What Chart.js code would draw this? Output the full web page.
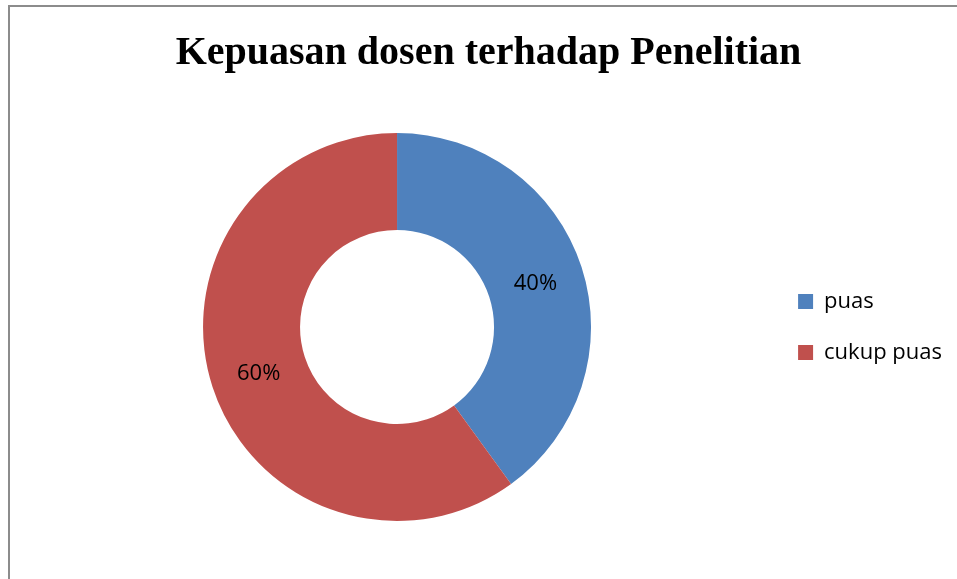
<!DOCTYPE html>
<html>
<head>
<meta charset="utf-8">
<script src="https://cdn.jsdelivr.net/npm/chart.js@4"></script>
<style>
  body { margin: 0; background: #fff; }
  #frame { position: absolute; left: 8px; top: 5px; width: 960px; height: 590px;
           border-left: 2px solid #8c8c8c; border-top: 2px solid #8c8c8c; }
  #wrap { position: absolute; left: 0; top: 0; width: 957px; height: 579px; }
</style>
</head>
<body>
<div id="frame"></div>
<div id="wrap"><canvas id="chart1"></canvas></div>
<script>
// data
const categories = ['puas', 'cukup puas'];
const percentValues = [40, 60];
const sliceColors = ['#4F81BD', '#C0504D'];

// label persen di tengah tiap irisan
const sliceLabels = {
  id: 'sliceLabels',
  afterDatasetsDraw(chart) {
    const ctx = chart.ctx;
    const meta = chart.getDatasetMeta(0);
    ctx.save();
    ctx.font = '22px "Open Sans"';
    ctx.fillStyle = '#000';
    ctx.textAlign = 'center';
    ctx.textBaseline = 'middle';
    meta.data.forEach((arc, i) => {
      const pos = arc.tooltipPosition();
      ctx.fillText(percentValues[i] + '%', pos.x, pos.y + 2);
    });
    ctx.restore();
  }
};

const ctx = document.getElementById('chart1').getContext('2d');
let donut = new Chart(ctx, {
  type: 'doughnut',
  data: {
    labels: categories,
    datasets: [{
      data: percentValues,
      backgroundColor: sliceColors,
      borderWidth: 0
    }]
  },
  options: {
    responsive: true,
    maintainAspectRatio: false,
    animation: false,
    cutout: '50%',
    layout: { padding: { left: 25, right: 5, top: 0, bottom: 58 } },
    plugins: {
      title: {
        display: true,
        text: 'Kepuasan dosen terhadap Penelitian',
        color: '#000',
        font: { family: '"Liberation Serif"', size: 40, weight: 'bold' },
        padding: { top: 30, bottom: 55 }
      },
      legend: {
        position: 'right',
        fullSize: false,
        labels: {
          color: '#000',
          font: { family: '"Open Sans"', size: 22 },
          boxWidth: 15,
          boxHeight: 15,
          padding: 29
        }
      },
      tooltip: { enabled: false }
    },
    events: []
  },
  plugins: [sliceLabels]
});
</script>
</body>
</html>
